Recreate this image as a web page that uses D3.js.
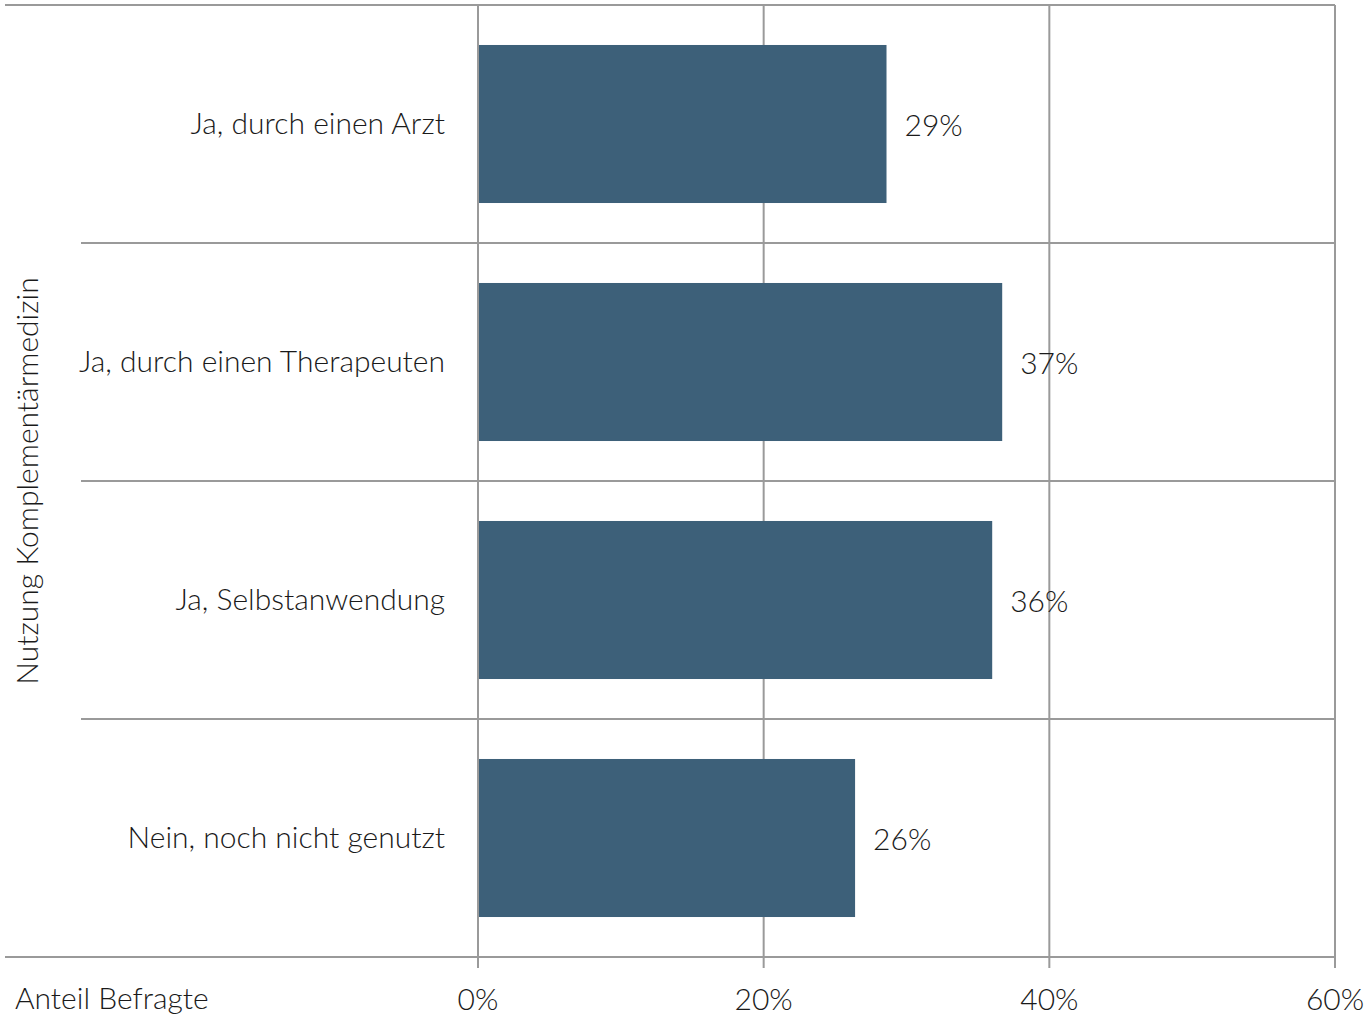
<!DOCTYPE html>
<html><head><meta charset="utf-8">
<script src="https://cdn.jsdelivr.net/npm/d3@7"></script>
<style>
html,body{margin:0;padding:0;background:#fff;}
text{font-family:"Lato","Open Sans",sans-serif;font-weight:300;fill:#1a1a1a;}
</style></head>
<body><svg id="c" width="1368" height="1018"></svg>
<script>
const categories = ["Ja, durch einen Arzt","Ja, durch einen Therapeuten","Ja, Selbstanwendung","Nein, noch nicht genutzt"];
const values = [28.6, 36.7, 36.0, 26.4];
const valueLabels = ["29%","37%","36%","26%"];
const ticks = [0,20,40,60];
const tickLabels = ["0%","20%","40%","60%"];
const yTitle = "Nutzung Komplementärmedizin";
const xTitle = "Anteil Befragte";

(function(){
const svg = d3.select("#c");
const pL = 478, pR = 1335, pT = 5, pB = 957;
const fs = 30;
const x = d3.scaleLinear().domain([0,60]).range([pL,pR]);
const y = d3.scaleBand().domain(categories).range([pT,pB]).paddingInner(0.336).paddingOuter(0.168);
const gridColor = "#9a9a9a";

svg.append("g").selectAll("line").data(ticks).join("line")
  .attr("x1", d=>x(d)).attr("x2", d=>x(d)).attr("y1", pT).attr("y2", pB+11)
  .attr("stroke", gridColor).attr("stroke-width", 2);

const bandStep = (pB-pT)/categories.length;
svg.append("g").selectAll("line").data(d3.range(1,categories.length)).join("line")
  .attr("x1", 81).attr("x2", pR).attr("y1", d=>pT+d*bandStep).attr("y2", d=>pT+d*bandStep)
  .attr("stroke", gridColor).attr("stroke-width", 2);
[pT,pB].forEach(yy=>{
  svg.append("line").attr("x1",5).attr("x2",pR).attr("y1",yy).attr("y2",yy)
    .attr("stroke",gridColor).attr("stroke-width",2);
});

svg.append("g").selectAll("rect").data(categories).join("rect")
  .attr("x", x(0)+1).attr("y", d=>y(d))
  .attr("width", (d,i)=>x(values[i])-x(0)-1).attr("height", y.bandwidth())
  .attr("fill", "#3d6079");

svg.append("g").selectAll("text").data(categories).join("text")
  .attr("x", (d,i)=>x(values[i])+18).attr("y", d=>y(d)+y.bandwidth()/2+5)
  .attr("dominant-baseline","middle").attr("font-size",fs)
  .text((d,i)=>valueLabels[i]);

svg.append("g").selectAll("text").data(categories).join("text")
  .attr("x", 445).attr("y", d=>y(d)+y.bandwidth()/2+3)
  .attr("text-anchor","end").attr("dominant-baseline","middle").attr("font-size",fs)
  .text(d=>d);

svg.append("g").selectAll("text").data(ticks).join("text")
  .attr("x", d=>x(d)).attr("y", 1003)
  .attr("text-anchor","middle").attr("dominant-baseline","middle").attr("font-size",fs)
  .text((d,i)=>tickLabels[i]);

svg.append("text").attr("x",15).attr("y",1002).attr("dominant-baseline","middle")
  .attr("font-size",fs).text(xTitle);

svg.append("text").attr("transform","translate(31,481) rotate(-90)")
  .attr("text-anchor","middle").attr("dominant-baseline","middle").attr("font-size",fs)
  .text(yTitle);
})();
</script></body></html>
